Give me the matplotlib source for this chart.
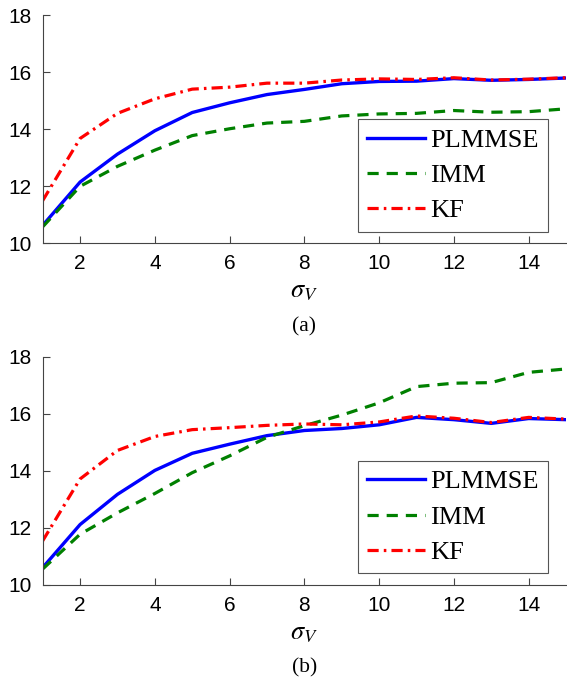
import matplotlib.pyplot as plt

sigma_v = list(range(1, 16))

# panel (a)
plmmse_a = [10.63, 12.15, 13.13, 13.95, 14.59, 14.93, 15.22, 15.40, 15.60, 15.68, 15.69, 15.78, 15.72, 15.75, 15.80]
imm_a = [10.58, 12.00, 12.70, 13.27, 13.78, 14.02, 14.22, 14.28, 14.47, 14.54, 14.56, 14.66, 14.60, 14.62, 14.72]
kf_a = [11.50, 13.68, 14.56, 15.07, 15.41, 15.48, 15.62, 15.62, 15.73, 15.77, 15.75, 15.81, 15.73, 15.76, 15.81]

# panel (b)
plmmse_b = [10.61, 12.12, 13.18, 14.02, 14.62, 14.94, 15.24, 15.42, 15.49, 15.62, 15.88, 15.80, 15.67, 15.84, 15.80]
imm_b = [10.56, 11.78, 12.53, 13.21, 13.94, 14.53, 15.18, 15.59, 15.96, 16.39, 16.96, 17.08, 17.10, 17.46, 17.58]
kf_b = [11.55, 13.72, 14.72, 15.21, 15.45, 15.52, 15.60, 15.65, 15.62, 15.72, 15.93, 15.85, 15.70, 15.88, 15.82]

plt.rcParams['mathtext.fontset'] = 'stix'
fig = plt.figure(figsize=(5.67, 6.78), dpi=100)

panels = [
    (plmmse_a, imm_a, kf_a, [0.0753, 0.6411, 0.923, 0.3363], "(a)"),
    (plmmse_b, imm_b, kf_b, [0.0753, 0.1372, 0.923, 0.3363], "(b)"),
]

for plm, imm, kf, rect, cap in panels:
    ax = fig.add_axes(rect)
    ax.plot(sigma_v, plm, color="#0000ff", lw=2.4, label="PLMMSE")
    ax.plot(sigma_v, imm, color="#008000", lw=2.3, ls=(0, (3.5, 2.5)), label="IMM")
    ax.plot(sigma_v, kf, color="#ff0000", lw=2.3, ls=(0, (3.5, 1.6, 0.8, 1.6)), label="KF")
    ax.set_xlim(1, 15)
    ax.set_ylim(10, 18)
    ax.set_xticks(range(2, 15, 2))
    ax.set_yticks(range(10, 19, 2))
    ax.spines["top"].set_visible(False)
    ax.spines["right"].set_visible(False)
    for s in ("left", "bottom"):
        ax.spines[s].set_color("#444444")
        ax.spines[s].set_linewidth(0.8)
    ax.tick_params(direction="in", length=5, color="#444444", labelsize=15, pad=8)
    for lab in ax.get_xticklabels() + ax.get_yticklabels():
        lab.set_family("Liberation Sans")
    ax.set_xlabel(r"$\sigma_V$", fontsize=19, labelpad=3)
    leg = ax.legend(loc="lower right", bbox_to_anchor=(0.966, 0.051),
                    prop={"family": "Liberation Serif", "size": 19},
                    fancybox=False, framealpha=1, edgecolor="#555555",
                    handlelength=2.2, handletextpad=0.2, borderpad=0.35,
                    labelspacing=0.45, borderaxespad=0)
    leg.get_frame().set_linewidth(0.8)
    ax.text(0.5, -0.322, cap, transform=ax.transAxes, ha="center", va="top",
            family="Liberation Serif", fontsize=15.5)

fig.savefig("out.png", dpi=100)
